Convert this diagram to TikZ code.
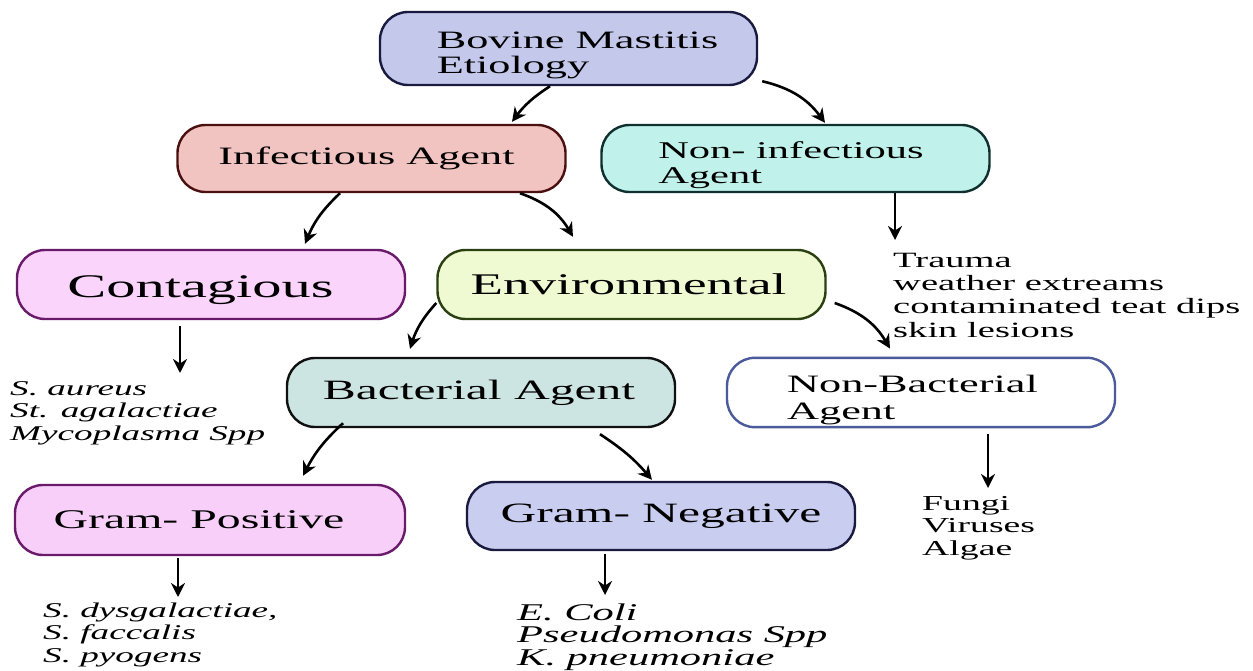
\documentclass[tikz,border=0pt]{standalone}
\usepackage{fontspec}
\setmainfont{Liberation Serif}[FakeStretch=1.77]
\usetikzlibrary{arrows.meta}
\definecolor{bovf}{HTML}{C4C9EC}
\definecolor{bovd}{HTML}{1A1A40}
\definecolor{inff}{HTML}{F1C4C1}
\definecolor{infd}{HTML}{4A1010}
\definecolor{nonf}{HTML}{C0F2EB}
\definecolor{nond}{HTML}{103030}
\definecolor{conf}{HTML}{FAD4FA}
\definecolor{cond}{HTML}{6A1A6A}
\definecolor{envf}{HTML}{EFF9D2}
\definecolor{envd}{HTML}{2A4010}
\definecolor{bacf}{HTML}{CDE5E2}
\definecolor{bacd}{HTML}{101010}
\definecolor{nbacd}{HTML}{4A5A9A}
\definecolor{gposf}{HTML}{F8CFF8}
\definecolor{gposd}{HTML}{6A1A6A}
\definecolor{gnegf}{HTML}{C9CDEF}
\definecolor{gnegd}{HTML}{1A1A40}
\begin{document}
\begin{tikzpicture}[x=1pt,y=-1pt,
  box/.style={rounded corners=28pt, line width=2.4pt, minimum width=388pt, minimum height=68pt, inner sep=2pt},
  arr/.style={line width=2.6pt, -{Stealth[length=14pt,width=14pt]}},
  lst/.style={anchor=base west, align=left, inner sep=0pt}]
\useasboundingbox (0,0) rectangle (1253,671);
\fill[white] (0,0) rectangle (1253,671);

\node[box, fill=bovf, draw=bovd, minimum width=377pt, minimum height=73pt, align=left, font=\fontsize{25}{25}\selectfont] (bov) at (568.5,48.5) {\rule{0pt}{31pt}\hspace*{18pt}Bovine Mastitis\\\hspace*{18pt}Etiology};
\node[box, fill=inff, draw=infd, minimum height=67pt, font=\fontsize{25}{25}\selectfont] (inf) at (371.5,158.5) {Infectious Agent\hspace*{10pt}};
\node[box, fill=nonf, draw=nond, minimum height=67pt, align=left, font=\fontsize{24}{25}\selectfont] (non) at (795.5,158.5) {\rule{0pt}{31pt}Non- infectious\hspace*{9pt}\\Agent};
\node[box, fill=conf, draw=cond, minimum height=69pt, font=\fontsize{33}{33}\selectfont] (con) at (211,284.5) {\rule{0pt}{34pt}Contagious\hspace*{21pt}};
\node[box, fill=envf, draw=envd, minimum height=69pt, font=\fontsize{30}{30}\selectfont] (env) at (631.5,284.5) {Environmental\hspace*{6pt}};
\node[box, fill=bacf, draw=bacd, minimum height=69pt, font=\fontsize{28}{28}\selectfont] (bac) at (481,392.5) {Bacterial Agent\hspace*{4pt}};
\node[box, fill=white, draw=nbacd, minimum height=69pt, align=left, font=\fontsize{25}{27}\selectfont] (nbac) at (921,392.5) {\rule{0pt}{33pt}Non-Bacterial\hspace*{17pt}\\Agent};
\node[box, fill=gposf, draw=gposd, minimum width=390pt, minimum height=70pt, font=\fontsize{27}{27}\selectfont] (gpos) at (210,520) {Gram- Positive\hspace*{22pt}};
\node[box, fill=gnegf, draw=gnegd, minimum height=68pt, font=\fontsize{28}{28}\selectfont] (gneg) at (661,516) {Gram- Negative};

\node[lst, font=\fontsize{21}{22.5}\selectfont\itshape] (conl) at (10,440) {S. aureus\\St. agalactiae\\Mycoplasma Spp};
\node[lst, font=\fontsize{21.8}{23.3}\selectfont] (nonl) at (893,337) {Trauma\\weather extreams\\contaminated teat dips\\skin lesions};
\node[lst, font=\fontsize{21.3}{22.5}\selectfont] (nbacl) at (922,555) {Fungi\\Viruses\\Algae};
\node[lst, font=\fontsize{21}{22.5}\selectfont\itshape] (gposl) at (43,662) {S. dysgalactiae,\\S. faccalis\\S. pyogens};
\node[lst, font=\fontsize{24}{22.5}\selectfont\itshape] (gnegl) at (517,665) {E. Coli\\Pseudomonas Spp\\K. pneumoniae};

\coordinate (t1) at (895,240);
\coordinate (t2) at (180,373);
\coordinate (t3) at (178,597);
\coordinate (t4) at (605,595);
\coordinate (t5) at (988,488);
\draw[arr] (non.south -| t1) -- (t1);
\draw[arr, shorten <=6pt] (con.south -| t2) -- (t2);
\draw[arr, shorten <=2pt] (gpos.south -| t3) -- (t3);
\draw[arr, shorten <=3pt] (gneg.south -| t4) -- (t4);
\draw[arr, shorten <=6pt] (nbac.south -| t5) -- (t5);

\draw[arr] ([xshift=-18.5pt]bov.south) to[bend right=10] ([xshift=140.5pt,yshift=2pt]inf.north);
\draw[arr] ([xshift=4pt,yshift=5pt]bov.south east) to[bend left=20] ([xshift=29.5pt,yshift=1pt]non.north);
\draw[arr] ([xshift=-31.5pt]inf.south) to[bend right=12] ([xshift=94pt,yshift=5pt]con.north);
\draw[arr] ([xshift=148.5pt]inf.south) to[bend left=20] ([xshift=-58.5pt,yshift=12pt]env.north);
\draw[arr] ([yshift=-18.5pt]env.west) to[bend right=12] ([xshift=-71pt,yshift=8pt]bac.north);
\draw[arr] ([xshift=8pt,yshift=-18.5pt]env.east) to[bend left=20] ([xshift=-31pt,yshift=8pt]nbac.north);
\draw[arr] ([xshift=-138pt,yshift=5pt]bac.south) to[bend right=10] ([xshift=93pt,yshift=8pt]gpos.north);
\draw[arr] ([xshift=119pt,yshift=-6pt]bac.south) to[bend left=8] ([xshift=-9pt,yshift=1pt]gneg.north);
\end{tikzpicture}
\end{document}
